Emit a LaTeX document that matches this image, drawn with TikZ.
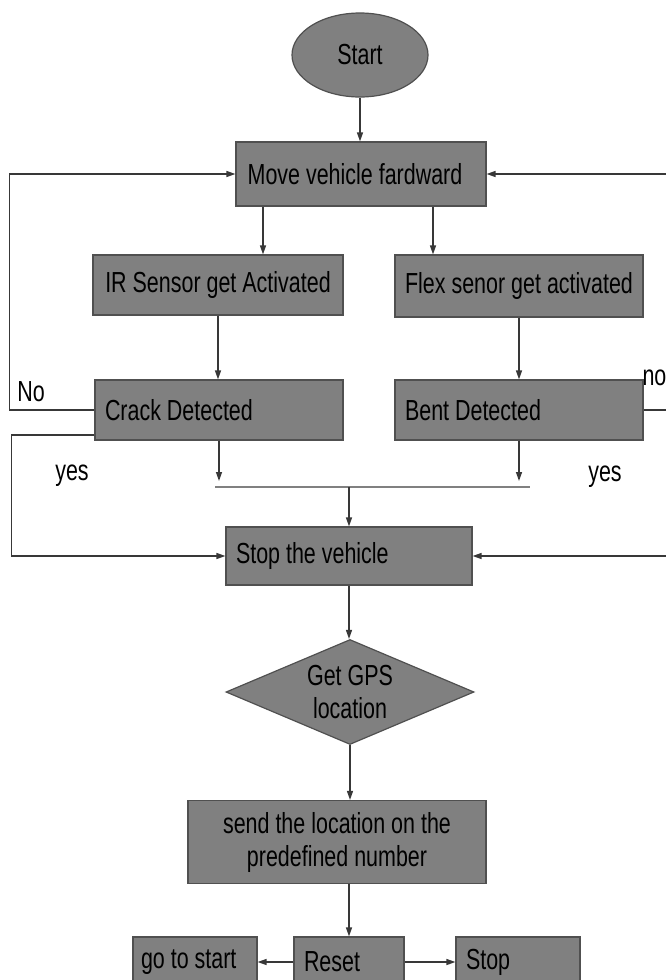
\documentclass[tikz,border=0pt]{standalone}
\usepackage{fontspec}
\setmainfont[FakeStretch=0.74]{Liberation Sans}
\usetikzlibrary{shapes.geometric,arrows.meta}
\definecolor{boxgray}{HTML}{808080}
\definecolor{edgegray}{HTML}{505050}
\definecolor{linegray}{HTML}{383838}
\begin{document}
\begin{tikzpicture}[x=1pt, y=-1pt,
  every node/.style={font=\fontsize{29}{33}\selectfont},
  box/.style={draw=edgegray, fill=boxgray, line width=1.2pt, inner sep=0pt, align=center},
  leftbox/.style={box, align=flush left, inner xsep=10pt, text width=#1},
  arr/.style={draw=linegray, line width=1.3pt, -{Triangle[length=9pt,width=6pt]}}]
  \useasboundingbox (0,0) rectangle (666,980);
  \fill[white] (0,0) rectangle (666,980);
  \clip (0,0) rectangle (666,980);
  % boxes, top to bottom
  \node[box, ellipse, minimum width=136pt, minimum height=84pt] (start) at (360,55) {Start};
  \node[box, minimum width=250pt, minimum height=64pt] (move) at (361,174) {Move vehicle fardward\hspace{12pt}};
  \node[box, minimum width=250pt, minimum height=60pt] (ir) at (218,285) {IR Sensor get Activated};
  \node[box, minimum width=248pt, minimum height=62pt] (flex) at (519,286) {Flex senor get activated};
  \node[leftbox=228pt, minimum height=60pt] (crack) at (219,410) {Crack Detected};
  \node[leftbox=228pt, minimum height=60pt] (bent) at (519,410) {Bent Detected};
  \node[leftbox=226pt, minimum height=58pt] (halt) at (349,556) {Stop the vehicle};
  \node[box, diamond, aspect=2.36, minimum width=248pt, minimum height=105pt] (gps) at (350,692) {Get GPS\\location};
  \node[box, minimum width=298pt, minimum height=83pt] (send) at (337,842) {send the location on the\\predefined number};
  \node[leftbox=90pt, minimum height=50pt] (reset) at (349,962) {Reset};
  \node[leftbox=108pt, minimum height=50pt, inner xsep=8pt] (gostart) at (195,962) {go to start};
  \node[leftbox=104pt, minimum height=50pt] (stopb) at (518,962) {Stop};
  % labels
  \node (lno) at (31,392) {No};
  \node[anchor=west] (rno) at (639,378) {no};
  \node (lyes) at (72,476) {yes};
  \node (ryes) at (605,477) {yes};
  % main flow
  \draw[arr] (start.south) -- (start.south |- move.north);
  \draw[arr] ([xshift=-98pt]move.south) -- ([xshift=-98pt]move.south |- ir.north);
  \draw[arr] ([xshift=72pt]move.south) -- ([xshift=72pt]move.south |- flex.north);
  \draw[arr] (ir.south) -- (ir.south |- crack.north);
  \draw[arr] (flex) -- (bent);
  % both yes paths join above the stop box
  \coordinate (jl) at (215,487);
  \coordinate (jr) at (530,487);
  \draw[arr, shorten >=6pt] (crack.south) -- (crack.south |- jl);
  \draw[arr, shorten >=6pt] (bent.south) -- (bent.south |- jl);
  \draw[draw=gray, line width=2.5pt] (jl) -- (jr);
  \draw[arr] (halt.north |- jl) -- (halt.north);
  % no loops back to the top, yes loops to the stop box
  \draw[arr] (crack.west) -- ++(-85,0) |- (move.west);
  \draw[arr] (bent.east) -- ++(29,0) |- (move.east);
  \draw[arr] ([yshift=-25pt]crack.west) -- ++(-83,0) |- (halt.west);
  \coordinate (rin) at (690,556);
  \draw[arr] (rin) -- (halt.east);
  % lower part
  \draw[arr] (halt.south) -- (halt.south |- gps.north);
  \draw[arr] (gps.south) -- (gps.south |- send.north);
  \draw[arr] (reset.north |- send.south) -- (reset.north);
  \draw[arr] (reset) -- (gostart);
  \draw[arr] (reset) -- (stopb);
\end{tikzpicture}
\end{document}
